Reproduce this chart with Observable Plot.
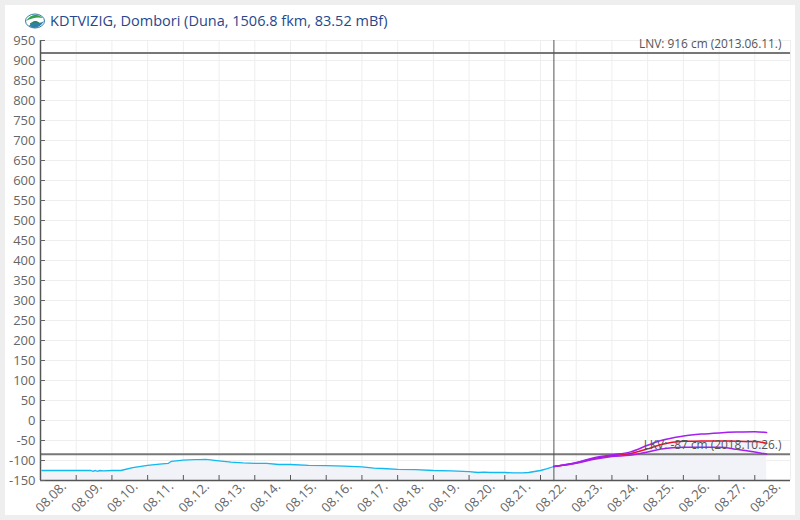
<!DOCTYPE html>
<html><head><meta charset="utf-8">
<script src="https://cdn.jsdelivr.net/npm/d3@7"></script>
<script src="https://cdn.jsdelivr.net/npm/@observablehq/plot@0.6"></script>
<style>
html,body{margin:0;padding:0;background:#eee;}
#card{position:absolute;left:5px;top:5px;width:790px;height:510px;background:#fff;overflow:hidden;}
#title{height:26px;display:flex;align-items:center;padding-left:20px;font:14.5px "Open Sans",sans-serif;color:#26478d;box-sizing:border-box;padding-top:5px;}
#title svg{margin-right:5px;}
#chart svg{display:block;}
</style></head><body>
<div id="card">
<div id="title"><svg width="20" height="16" viewBox="0 0 20 16"><ellipse cx="10" cy="8" rx="9.5" ry="7" fill="#fff" stroke="#2f7fa8"/><path d="M1 8 Q9 -3 18 5 Q10 3 1 8Z" fill="#35a04a"/><path d="M4 13 Q9 6 13 9 Q15 11 19 8 Q15 15 9 15Z" fill="#2f7fa8"/><path d="M5 11 Q10 7 14 10" stroke="#1f8a3a" fill="none"/></svg><span>KDTVIZIG, Dombori (Duna, 1506.8 fkm, 83.52 mBf)</span></div>
<div id="chart"></div>
</div>
<script>
const dayTicks = ["08-08","08-09","08-10","08-11","08-12","08-13","08-14","08-15","08-16","08-17","08-18","08-19","08-20","08-21","08-22","08-23","08-24","08-25","08-26","08-27","08-28"];
const yTicks = d3.range(-150, 951, 50);
const observedTimes = ["08-08 01","08-08 12","08-09 00","08-09 10","08-09 11","08-09 13","08-09 14","08-09 16","08-09 18","08-10 00","08-10 06","08-10 14","08-11 00","08-11 08","08-11 14","08-11 16","08-12 00","08-12 08","08-12 11","08-12 15","08-13 00","08-13 08","08-13 16","08-14 00","08-14 08","08-14 16","08-15 00","08-15 12","08-16 00","08-16 12","08-17 00","08-17 08","08-17 14","08-18 00","08-18 12","08-19 00","08-19 12","08-20 00","08-20 06","08-20 10","08-20 14","08-21 00","08-21 06","08-21 12","08-21 16","08-22 00","08-22 04","08-22 09"];
const observed = [-125,-125,-125,-125,-127,-125,-127,-125,-126,-125,-125,-118,-112,-109,-107,-102,-99,-98,-98,-97,-101,-104,-106,-107,-107,-110,-110,-112,-113,-114,-116,-119,-120,-122,-123,-125,-126,-128,-130,-129,-130,-130,-131,-131,-130,-125,-121,-115];
const forecastTimes = ["08-22 09","08-23 00","08-23 12","08-24 00","08-24 12","08-25 00","08-25 09","08-26 00","08-26 12","08-27 00","08-27 12","08-28 00","08-28 08"];
const forecastHigh = [-115,-105,-93,-86,-79,-62,-50,-39,-34,-31,-29,-28,-30];
const forecastMid = [-115,-106,-95,-88,-83,-71,-60,-52,-51.5,-51,-52,-52.5,-57];
const forecastLow = [-115,-107,-97,-90,-87,-79,-71,-67,-67,-67,-72,-79,-84];
const levelLines = [916, -87];
const levelLabels = ["LNV: 916 cm (2013.06.11.)", "LKV: -87 cm (2018.10.26.)"];
const labelValues = [916 + 24, -87 + 26];
const nowTime = "08-22 09";

const t = s => { const [d, h] = s.split(" "); return new Date(`2020-${d}T${(h ?? "00").padStart(2,"0")}:00:00Z`); };
const series = (ts, vs) => ts.map((d, i) => ({t: t(d), v: vs[i]}));
const obs = series(observedTimes, observed);
const hi = series(forecastTimes, forecastHigh);
const mid = series(forecastTimes, forecastMid);
const lo = series(forecastTimes, forecastLow);
const ticks = dayTicks.map(d => t(d));
const x0 = t("08-08"), x1 = t("08-29");
const fmt = d3.utcFormat("%m.%d.");

const chart = Plot.plot({
  width: 790, height: 484,
  marginLeft: 35, marginRight: 5, marginTop: 9, marginBottom: 35,
  style: {fontFamily: '"Open Sans",sans-serif', background: "transparent", overflow: "visible"},
  x: {type: "utc", domain: [x0, x1]},
  y: {domain: [-150, 950]},
  marks: [
    Plot.ruleY(yTicks, {stroke: "#eeeeee", strokeWidth: 1}),
    Plot.ruleX(ticks.slice(1).concat([x1]), {stroke: "#eeeeee", strokeWidth: 1}),
    Plot.areaY(obs.concat(mid.slice(1)), {x: "t", y1: -150, y2: "v", fill: "#f2f3f8"}),
    Plot.ruleY(levelLines, {stroke: "#777", strokeWidth: 2, dy: -1}),
    Plot.ruleX([t(nowTime)], {stroke: "#555", strokeWidth: 1}),
    Plot.lineY(obs, {x: "t", y: "v", stroke: "#12b8f0", strokeWidth: 1.3}),
    Plot.lineY(mid, {x: "t", y: "v", stroke: "#e8102a", strokeWidth: 1.5, curve: "monotone-x"}),
    Plot.lineY(hi, {x: "t", y: "v", stroke: "#a51ff0", strokeWidth: 1.5, curve: "monotone-x"}),
    Plot.lineY(lo, {x: "t", y: "v", stroke: "#a51ff0", strokeWidth: 1.5, curve: "monotone-x"}),
    Plot.text(levelLabels, {x: x1, y: labelValues, dx: -9, text: d => d, textAnchor: "end", fontSize: 11.9, fill: "#555"}),
    Plot.ruleY([-150], {stroke: "#555", strokeWidth: 1.5}),
    Plot.ruleX([x0], {stroke: "#555", strokeWidth: 1.5}),
    Plot.axisY({ticks: yTicks, tickSize: -5, tickPadding: 10, fontSize: 13, color: "#666", label: null, tickFormat: d => String(d)}),
    Plot.axisX({ticks, tickSize: -5, stroke: "#555", label: null, tickFormat: () => ""}),
    Plot.axisX({ticks, tickSize: 0, color: "#666", label: null, tickFormat: fmt, tickRotate: -45, textAnchor: "end", fontSize: 13, dx: 23.5, dy: -8})
  ]
});
document.getElementById("chart").appendChild(chart);
</script>
</body></html>
